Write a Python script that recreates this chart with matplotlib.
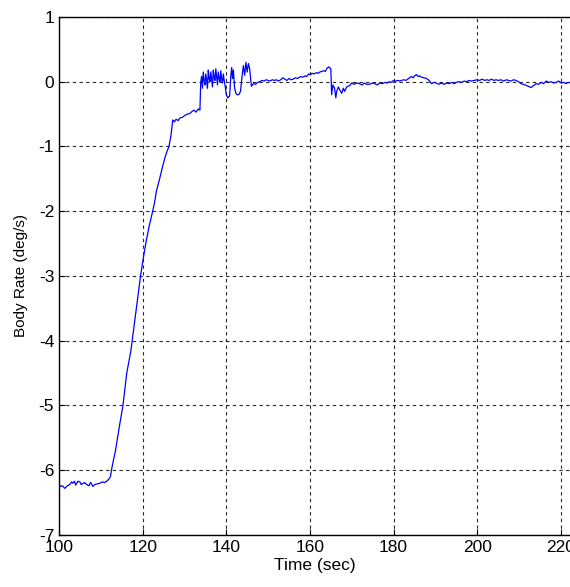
import matplotlib
matplotlib.use("Agg")
import matplotlib.pyplot as plt
from matplotlib import font_manager

# body rate trace, (time sec, rate deg/s)
t_flat = [100.0, 100.4, 100.8, 101.4, 102.0, 102.6, 103.0, 103.3, 103.7, 104.0,
          104.5, 105.0, 105.3, 105.6, 106.1, 106.6, 107.2, 107.5, 107.7, 108.1,
          108.6, 109.2, 109.8, 110.4, 110.9, 111.4, 111.9, 112.3, 112.6, 113.0,
          113.5]
v_flat = [-6.22, -6.25, -6.24, -6.28, -6.24, -6.22, -6.18, -6.20, -6.17, -6.23,
          -6.17, -6.18, -6.22, -6.21, -6.19, -6.22, -6.24, -6.19, -6.20, -6.25,
          -6.22, -6.21, -6.20, -6.18, -6.19, -6.17, -6.14, -6.10, -5.98, -5.85,
          -5.70]

t_rise = [113.9, 114.5, 115.3, 116.2, 117.2, 118.0, 118.8, 119.5, 120.1, 120.8,
          121.5, 122.4, 122.9, 123.3, 124.1, 124.7, 125.3, 125.8, 126.3, 126.8,
          127.2, 127.6, 128.0, 128.5, 128.9, 129.5, 130.1, 130.7, 131.3, 131.8,
          132.3, 132.8, 133.3, 133.7]
v_rise = [-5.54, -5.30, -5.00, -4.50, -4.15, -3.75, -3.35, -3.00, -2.75, -2.48,
          -2.25, -2.00, -1.85, -1.69, -1.49, -1.33, -1.18, -1.08, -1.00, -0.82,
          -0.59, -0.62, -0.58, -0.60, -0.56, -0.55, -0.52, -0.50, -0.49, -0.46,
          -0.44, -0.47, -0.42, -0.44]

t_noisy = [133.9, 134.1, 134.3, 134.5, 134.7, 134.9, 135.1, 135.3, 135.5, 135.7,
           135.9, 136.1, 136.3, 136.5, 136.7, 136.9, 137.1, 137.3, 137.5, 137.7,
           137.9, 138.1, 138.3, 138.5, 138.7, 138.9, 139.1, 139.3, 139.5, 139.7,
           140.0, 140.4, 140.8, 141.1, 141.3, 141.5, 141.7, 142.0, 142.3, 142.6,
           143.0, 143.4, 143.8, 144.1, 144.4, 144.7, 145.0, 145.3, 145.6, 146.0,
           146.5, 147.0, 147.5]
v_noisy = [0.00, 0.08, -0.10, 0.15, 0.02, -0.05, 0.12, 0.03, -0.10, 0.18,
           0.05, 0.00, 0.15, 0.04, -0.08, 0.18, 0.06, 0.02, 0.20, 0.08,
           -0.05, 0.15, 0.05, 0.00, 0.17, 0.04, -0.02, 0.12, 0.02, -0.05,
           -0.20, -0.25, -0.22, 0.10, 0.22, 0.05, 0.18, -0.10, -0.18, -0.20,
           -0.20, -0.15, 0.10, 0.25, 0.10, 0.30, 0.15, 0.28, 0.20, -0.07,
           -0.03, -0.04, -0.01]

t_tail = [148.0, 148.5, 149.0, 149.5, 150.0, 150.5, 151.0, 151.5, 152.0, 152.5,
          153.0, 153.5, 154.0, 154.5, 155.0, 155.5, 156.0, 156.5, 157.0, 157.8,
          158.3, 158.8, 159.2, 159.7, 160.1, 160.5, 161.0, 161.5, 162.0, 162.4,
          162.9, 163.3, 163.7, 164.0, 164.5, 165.0, 165.2, 165.5, 165.9, 166.2,
          166.4, 166.8, 167.1, 167.6, 168.0, 168.3, 168.8, 169.5, 170.0, 170.5,
          171.2, 171.9, 172.5, 173.0, 173.6, 174.3, 174.9, 175.5, 176.1, 176.7,
          177.3, 178.0, 178.5, 179.0, 179.5, 180.0, 180.5, 181.0, 181.5, 181.9,
          182.5, 183.0, 183.6, 184.3, 184.7, 185.0, 185.5, 185.9, 186.2, 186.7,
          187.3, 187.9, 188.5, 189.1, 189.7, 190.2, 190.8, 191.5, 192.1, 192.7,
          193.3, 193.9, 194.5, 195.0, 195.6, 196.3, 196.9, 197.5, 198.0, 198.6,
          199.3, 200.0, 200.6, 201.2, 201.8, 202.3, 202.9, 203.4, 204.0, 204.5,
          205.1, 205.7, 206.3, 207.0, 207.5, 208.1, 208.7, 209.3, 209.9, 210.5,
          211.0, 211.5, 212.2, 212.9, 213.5, 214.1, 214.7, 215.3, 215.9, 216.5,
          217.1, 217.7, 218.3, 218.9, 219.5, 220.1, 220.7, 221.2, 221.8, 222.5]
v_tail = [0.00, 0.02, 0.01, 0.03, 0.02, 0.01, 0.03, 0.02, 0.03, 0.01,
          0.03, 0.06, 0.04, 0.02, 0.05, 0.03, 0.04, 0.06, 0.05, 0.08,
          0.07, 0.09, 0.08, 0.12, 0.11, 0.13, 0.12, 0.14, 0.13, 0.15,
          0.16, 0.17, 0.16, 0.20, 0.23, 0.20, -0.20, -0.05, -0.10, -0.25,
          -0.15, -0.08, -0.12, -0.18, -0.10, -0.15, -0.08, -0.06, -0.02, -0.04,
          -0.02, -0.03, -0.05, -0.02, -0.04, -0.04, -0.02, -0.03, -0.05, -0.02,
          -0.03, -0.01, -0.02, 0.00, -0.01, 0.02, 0.01, 0.02, 0.01, 0.02,
          0.03, 0.02, 0.05, 0.08, 0.06, 0.09, 0.11, 0.08, 0.09, 0.07,
          0.06, 0.05, 0.02, -0.03, -0.01, -0.02, -0.04, -0.02, -0.04, -0.02,
          -0.03, -0.01, -0.03, -0.01, 0.00, -0.01, 0.01, 0.00, 0.02, 0.01,
          0.02, 0.03, 0.02, 0.04, 0.02, 0.03, 0.02, 0.04, 0.02, 0.03,
          0.02, 0.03, 0.01, 0.03, 0.02, 0.01, 0.03, 0.02, 0.00, -0.03,
          -0.04, -0.05, -0.07, -0.09, -0.06, -0.03, -0.04, -0.01, -0.03, 0.01,
          -0.01, 0.00, -0.02, -0.01, 0.01, -0.02, -0.01, -0.03, -0.01, -0.02]

x_ticks = [100, 120, 140, 160, 180, 200, 220]
y_ticks = [-7, -6, -5, -4, -3, -2, -1, 0, 1]

t = t_flat + t_rise + t_noisy + t_tail
v = v_flat + v_rise + v_noisy + v_tail

names = {f.name for f in font_manager.fontManager.ttflist}
fam = "Liberation Sans Narrow" if "Liberation Sans Narrow" in names else "Liberation Sans"
plt.rcParams['font.family'] = [fam, 'DejaVu Sans']
plt.rcParams['axes.unicode_minus'] = False

fig = plt.figure(figsize=(5.7, 5.87), dpi=100)
ax = fig.add_axes([0.1035, 0.0886, 0.8965, 0.8825])
ax.plot(t, v, color='#0000ff', linewidth=0.9)

ax.set_xlim(100, 222.2)
ax.set_ylim(-7, 1)
ax.set_xticks(x_ticks)
ax.set_yticks(y_ticks)
ax.tick_params(direction='in', length=4, labelsize=12.5, colors='black')
ax.grid(True, color='black', linestyle=(0, (3, 3)), linewidth=0.8, alpha=0.85)
ax.spines['right'].set_visible(False)
for s in ['left', 'top', 'bottom']:
    ax.spines[s].set_linewidth(1.0)

ax.set_xlabel('Time (sec)', fontsize=12.5, labelpad=2)
ax.set_ylabel('Body Rate (deg/s)', fontsize=11, family=['Liberation Sans', 'DejaVu Sans'], labelpad=8)

fig.savefig('out.png', dpi=100)
